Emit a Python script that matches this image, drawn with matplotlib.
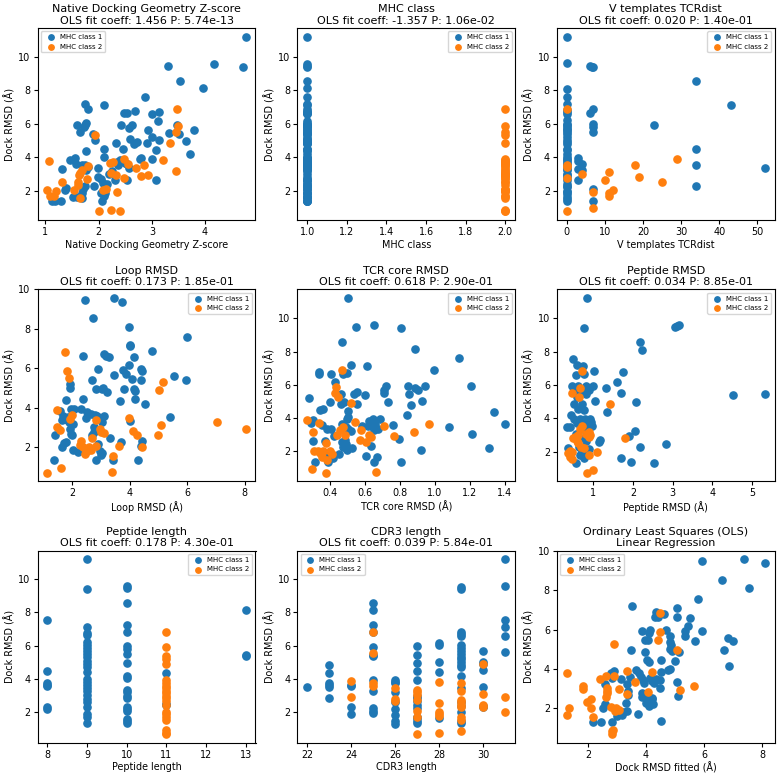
import numpy as np
import matplotlib
matplotlib.use("Agg")
import matplotlib.pyplot as plt

# ---- data (class 1 = blue, class 2 = orange) ----
zscore_c1 = [(4.76, 11.2), (3.31, 9.47), (4.17, 9.57), (4.71, 9.37), (3.53, 8.53), (3.96, 8.12),
             (2.88, 7.57), (1.75, 7.2), (2.11, 7.12), (1.81, 6.86), (2.47, 6.65), (2.54, 6.63),
             (2.68, 6.75), (3.01, 6.6), (3.14, 6.67), (1.60, 5.9), (1.74, 5.94), (1.77, 6.02),
             (1.72, 5.78), (2.43, 5.94), (2.62, 5.9), (2.58, 5.75), (3.12, 6.16), (1.65, 5.47),
             (1.89, 5.41), (1.94, 5.02), (2.59, 5.06), (2.73, 4.92), (2.67, 4.78), (2.90, 4.82),
             (2.92, 5.63), (3.01, 5.22), (3.14, 5.02), (3.33, 5.45), (3.48, 5.94), (3.51, 5.41),
             (3.64, 4.96), (3.80, 5.61), (3.72, 4.20), (2.33, 4.86), (2.45, 4.49), (2.10, 4.47),
             (1.76, 4.37), (3.07, 4.43), (2.11, 3.98), (1.46, 3.8), (1.55, 3.94), (1.58, 3.6),
             (1.68, 3.51), (1.75, 3.55), (1.81, 3.41), (1.77, 3.2), (1.32, 3.29), (1.99, 3.35),
             (2.34, 3.71), (2.40, 3.8), (2.49, 3.65), (2.37, 3.51), (2.53, 3.59), (2.58, 3.35),
             (2.78, 3.86), (2.80, 3.96), (3.01, 3.88), (2.19, 3.0), (2.25, 3.14), (2.30, 2.61),
             (2.53, 2.61), (3.07, 2.65), (1.99, 2.82), (2.04, 2.67), (2.09, 2.43), (2.15, 2.37),
             (1.91, 2.27), (1.74, 2.27), (1.71, 2.08), (1.68, 1.84), (1.38, 2.18), (1.37, 2.02),
             (1.52, 1.59), (1.60, 1.61), (1.68, 1.57), (2.05, 1.88), (2.12, 1.84), (2.11, 1.69),
             (2.07, 1.37), (1.12, 1.35), (1.19, 1.35), (1.30, 1.37)]
zscore_c2 = [(1.06, 3.78), (1.04, 2.04), (1.09, 1.65), (1.17, 1.69), (1.20, 2.0), (1.31, 2.49),
             (1.53, 2.02), (1.62, 2.51), (1.61, 2.31), (1.63, 2.94), (1.66, 3.06), (1.69, 3.22),
             (1.65, 1.57), (1.78, 2.67), (1.81, 3.49), (1.94, 5.33), (2.01, 0.76), (2.08, 2.06),
             (2.14, 2.08), (2.22, 3.65), (2.27, 3.69), (2.24, 0.84), (2.34, 1.94), (2.32, 2.94),
             (2.40, 0.76), (2.48, 2.73), (2.48, 3.88), (2.56, 3.61), (2.71, 3.35), (2.80, 2.84),
             (2.86, 3.55), (2.93, 2.94), (3.21, 3.84), (3.35, 4.86), (3.45, 3.16), (3.45, 5.49),
             (3.48, 6.86), (3.50, 5.88), (2.23, 3.06)]

# V templates TCRdist: many structures sit at 0
tcrdist_zero_c1 = [11.2, 9.6, 8.1, 7.6, 7.2, 6.8, 6.7, 6.6, 6.2, 6.0, 5.9, 5.8, 5.7, 5.6, 5.5,
                   5.4, 5.2, 5.0, 4.9, 4.8, 4.5, 4.4, 4.2, 4.0, 3.9, 3.8, 3.7, 3.6, 3.5, 3.4,
                   3.3, 3.2, 3.0, 2.9, 2.8, 2.6, 2.4, 2.3, 2.2, 2.0, 1.9, 1.8, 1.6, 1.5, 1.35]
tcrdist_c1 = [(3, 3.94), (3, 3.78), (3, 3.29), (4, 3.6), (4, 3.25), (3, 2.65), (6, 9.47),
              (6.5, 9.41), (7, 9.37), (6, 6.63), (7, 6.86), (7, 6.0), (7, 5.8), (7, 5.5),
              (7, 2.08), (7, 1.37), (23, 5.9), (34, 8.53), (34, 4.47), (34, 3.55), (34, 2.29),
              (43, 7.12), (52, 3.33)]
tcrdist_zero_c2 = [6.86, 3.5, 3.4, 2.73, 0.76]
tcrdist_c2 = [(4, 2.98), (7, 1.94), (7, 0.94), (10, 2.61), (11, 3.12), (11, 1.88), (11, 1.65),
              (12, 2.02), (18, 3.55), (19, 2.8), (25, 2.49), (29, 3.9)]

loop_c1 = [(2.46, 9.46), (3.45, 9.56), (3.73, 9.36), (2.73, 8.53), (3.98, 8.10), (6.0, 7.57),
           (4.02, 7.2), (4.03, 7.12), (4.78, 6.86), (2.39, 6.64), (3.12, 6.74), (3.19, 6.64),
           (3.30, 6.59), (4.15, 6.59), (3.97, 6.16), (2.92, 5.95), (3.78, 5.9), (3.89, 5.73),
           (4.39, 5.98), (4.42, 5.88), (4.39, 5.43), (4.08, 5.48), (5.53, 5.6), (5.97, 5.40),
           (3.46, 5.65), (2.68, 5.42), (1.95, 5.22), (1.94, 5.02), (2.84, 4.97), (3.04, 4.94),
           (3.07, 5.02), (3.21, 4.80), (3.82, 4.93), (4.18, 4.85), (4.17, 4.97), (4.20, 4.47),
           (4.54, 4.19), (1.80, 4.4), (2.38, 4.47), (3.67, 4.36), (4.03, 3.34), (5.39, 3.54),
           (2.33, 3.94), (1.97, 3.94), (2.06, 3.94), (1.6, 3.82), (1.68, 3.58), (1.73, 3.41),
           (1.80, 3.46), (1.87, 3.56), (1.64, 3.36), (1.91, 3.28), (2.05, 3.19), (2.50, 3.51),
           (2.54, 3.81), (2.65, 3.69), (2.80, 3.63), (2.87, 3.58), (3.12, 3.58), (3.04, 3.26),
           (2.75, 3.03), (2.77, 2.78), (2.70, 2.65), (1.95, 2.95), (1.97, 2.70), (2.0, 2.61),
           (1.40, 2.61), (1.73, 2.23), (1.81, 2.28), (1.65, 2.02), (2.05, 1.88), (2.22, 1.75),
           (2.91, 2.18), (2.97, 1.82), (3.0, 1.62), (3.06, 1.70), (2.84, 1.34), (1.37, 1.34),
           (3.33, 2.48), (3.72, 2.28), (3.44, 1.37), (4.31, 1.35), (4.39, 2.08), (4.42, 2.32)]
loop_c2 = [(1.76, 6.83), (1.82, 5.88), (1.90, 5.52), (5.15, 5.30), (5.02, 4.89), (1.47, 3.89),
           (1.99, 3.66), (3.98, 3.49), (1.94, 3.44), (7.04, 3.26), (8.03, 2.93), (1.49, 3.03),
           (1.60, 2.90), (5.08, 3.11), (4.99, 2.63), (4.13, 2.83), (4.27, 2.60), (4.43, 2.03),
           (2.83, 3.38), (2.97, 2.95), (3.01, 2.78), (3.12, 2.73), (2.30, 2.33), (2.29, 2.12),
           (2.39, 2.03), (2.48, 1.92), (2.54, 1.82), (2.61, 2.02), (2.66, 1.85), (2.46, 1.65),
           (2.84, 2.05), (2.69, 2.45), (3.64, 2.05), (3.41, 1.55), (1.15, 0.72), (1.61, 0.94),
           (3.38, 0.77)]

core_c1 = [(0.504, 11.23), (0.546, 9.49), (0.65, 9.61), (0.806, 9.41), (0.466, 8.56), (0.886, 8.13),
           (1.136, 7.59), (0.518, 7.2), (0.614, 7.12), (0.996, 6.86), (0.335, 6.76), (0.339, 6.62),
           (0.404, 6.62), (0.474, 6.62), (0.495, 6.68), (0.428, 6.17), (0.72, 5.95), (0.846, 5.95),
           (0.885, 5.83), (0.903, 5.66), (0.941, 5.91), (1.205, 5.95), (0.711, 5.66), (0.711, 5.52),
           (0.277, 5.22), (0.464, 5.42), (0.60, 5.40), (0.539, 5.44), (0.557, 5.58), (0.85, 5.46),
           (0.732, 4.96), (0.48, 4.96), (0.46, 4.83), (0.40, 4.94), (0.552, 4.83), (0.504, 4.43),
           (0.863, 4.79), (0.928, 5.02), (0.343, 4.45), (0.358, 4.51), (0.842, 4.17), (1.214, 3.0),
           (1.08, 3.46), (1.402, 3.62), (1.337, 4.37), (1.31, 2.18), (0.922, 2.06), (0.797, 2.71),
           (0.803, 1.33), (0.683, 3.94), (0.645, 3.94), (0.624, 3.80), (0.618, 3.54), (0.66, 3.64),
           (0.674, 3.34), (0.649, 3.26), (0.637, 2.3), (0.605, 1.72), (0.668, 1.63), (0.649, 1.33),
           (0.495, 3.94), (0.504, 4.06), (0.47, 3.66), (0.489, 3.48), (0.504, 3.34), (0.52, 3.2),
           (0.584, 3.5), (0.353, 3.6), (0.383, 3.32), (0.408, 3.32), (0.294, 3.72), (0.303, 3.88),
           (0.371, 2.63), (0.423, 2.91), (0.466, 2.55), (0.491, 2.4), (0.472, 2.26), (0.499, 2.04),
           (0.527, 2.16), (0.485, 2.67), (0.30, 2.6), (0.449, 1.82), (0.381, 1.86), (0.415, 1.57),
           (0.387, 1.35), (0.315, 1.33), (0.76, 3.6)]
core_c2 = [(0.468, 6.86), (0.432, 5.87), (0.426, 5.52), (0.447, 5.28), (0.518, 4.88), (0.269, 3.88),
           (0.337, 3.68), (0.54, 3.78), (0.706, 3.54), (0.965, 3.62), (0.303, 3.15), (0.472, 3.44),
           (0.455, 3.3), (0.438, 2.97), (0.487, 2.99), (0.575, 3.3), (0.571, 2.69), (0.603, 2.55),
           (0.622, 2.99), (0.634, 2.85), (0.766, 2.91), (0.88, 3.13), (0.379, 2.51), (0.311, 2.0),
           (0.33, 2.0), (0.343, 1.88), (0.362, 2.0), (0.40, 2.0), (0.412, 1.84), (0.353, 1.62),
           (0.385, 1.49), (0.296, 0.91), (0.375, 0.7), (0.664, 0.74)]

pep_rmsd_c1 = [(0.85, 11.23), (0.78, 9.41), (3.05, 9.49), (3.12, 9.55), (3.15, 9.61), (2.18, 8.56),
               (2.22, 8.13), (0.49, 7.59), (0.6, 7.2), (0.75, 7.12), (1.02, 6.86), (0.58, 6.62),
               (0.78, 6.68), (1.76, 6.76), (1.59, 6.17), (1.33, 5.81), (0.47, 5.95), (0.63, 5.95),
               (0.82, 5.95), (1.0, 5.95), (0.91, 5.68), (0.63, 5.66), (0.73, 5.56), (0.83, 5.48),
               (1.7, 5.52), (4.51, 5.42), (5.32, 5.46), (1.06, 5.02), (2.08, 4.96), (0.59, 5.26),
               (0.53, 4.89), (0.71, 4.89), (0.78, 4.53), (0.61, 4.55), (1.35, 4.37), (0.45, 4.19),
               (0.51, 3.94), (0.68, 3.94), (0.79, 3.94), (0.93, 3.94), (0.96, 3.78), (0.89, 3.62),
               (0.98, 3.56), (0.34, 3.48), (0.41, 3.48), (0.59, 3.70), (0.76, 3.38), (0.83, 3.54),
               (0.58, 3.05), (0.66, 2.85), (2.05, 3.25), (1.91, 2.97), (2.83, 2.47), (1.17, 2.71),
               (1.16, 2.59), (0.83, 2.61), (0.38, 2.2), (0.65, 2.3), (2.19, 2.26), (0.91, 2.16),
               (0.66, 1.82), (0.73, 1.96), (0.84, 1.90), (0.78, 1.64), (1.70, 1.60), (1.95, 1.35),
               (2.54, 1.31), (0.56, 1.31)]
pep_rmsd_c2 = [(0.71, 6.86), (0.67, 5.85), (0.48, 5.52), (0.65, 5.28), (1.43, 4.87), (0.71, 3.54),
               (0.68, 3.38), (0.89, 3.18), (0.83, 3.05), (0.93, 3.01), (0.9, 2.89), (0.49, 2.83),
               (0.54, 2.89), (0.59, 2.65), (1.80, 2.81), (0.63, 2.49), (0.77, 2.2), (1.09, 2.0),
               (0.42, 2.04), (0.46, 2.0), (0.38, 1.9), (0.42, 1.68), (0.47, 1.55), (0.89, 1.82),
               (0.70, 2.28), (0.85, 0.74), (1.01, 0.87), (0.63, 2.99)]

# peptide length -> Dock RMSD values
pep_len_c1 = {8: [7.57, 4.48, 3.75, 3.65, 3.56, 2.3, 2.2],
              9: [11.19, 9.38, 7.1, 6.74, 6.65, 6.21, 6.06, 5.86, 5.7, 5.5, 5.31, 5.11, 4.91, 4.72,
                  4.44, 4.0, 3.85, 3.65, 3.46, 3.26, 3.06, 2.79, 2.63, 2.3, 1.88, 1.69, 1.33],
              10: [9.62, 9.48, 8.56, 7.26, 6.84, 5.96, 5.82, 5.48, 4.97, 4.18, 4.05, 3.36, 3.22,
                   2.96, 2.87, 2.31, 2.2, 2.08, 1.59, 1.45, 1.33],
              11: [4.36, 2.5, 2.42],
              13: [8.12, 5.46, 5.39]}
pep_len_c2 = {11: [6.84, 5.9, 5.4, 5.23, 4.9, 3.93, 3.77, 3.61, 3.46, 3.3, 3.14, 3.0, 2.87,
                   2.67, 2.47, 2.04, 1.88, 1.69, 1.53, 0.94, 0.78, 0.7]}

cdr3_c1 = {22: [3.52],
           23: [4.87, 4.34, 3.75, 3.65, 3.5, 2.87],
           24: [3.65, 3.56, 2.31, 1.88],
           25: [8.56, 8.12, 7.24, 6.84, 5.92, 5.46, 5.39, 3.97, 3.26, 2.24, 2.08, 1.98],
           26: [3.97, 3.85, 3.75, 3.2, 2.61, 2.2, 1.84, 1.45, 1.29],
           27: [5.96, 5.43, 4.95, 4.48, 3.95, 3.0, 2.87, 2.67, 2.47, 2.24, 1.74, 1.63, 1.45, 1.33],
           28: [6.19, 6.02, 5.03, 4.4, 1.63],
           29: [9.53, 9.42, 6.84, 6.72, 6.57, 6.02, 5.86, 5.68, 5.5, 5.33, 5.19, 5.03, 4.87, 4.74,
                4.2, 3.46, 2.63, 2.37, 2.04, 1.49, 1.33],
           30: [5.7, 5.0, 4.9, 4.52, 3.54, 2.37, 2.31],
           31: [11.19, 9.58, 7.57, 7.14, 6.61, 5.6]}
cdr3_c2 = {24: [3.89, 2.94],
           25: [6.84, 5.56, 3.75, 3.56],
           26: [3.46, 2.81, 2.67],
           27: [3.36, 3.2, 3.02, 2.73, 2.08, 1.69, 0.7],
           28: [3.85, 2.59, 2.04, 1.88, 1.76, 0.74],
           29: [3.75, 3.26, 2.77, 2.63, 2.47, 2.31, 1.69, 1.55, 0.9],
           30: [4.93, 3.1, 2.47, 2.35],
           31: [2.9, 2.04]}

fitted_c1 = [(5.93, 9.48), (7.36, 9.58), (8.09, 9.4), (6.62, 8.55), (7.55, 8.13), (5.77, 7.58),
             (3.53, 7.22), (5.06, 7.12), (4.35, 6.9), (4.61, 6.78), (4.40, 6.67), (4.29, 6.63),
             (5.06, 6.65), (5.52, 6.62), (5.43, 6.2), (5.33, 5.93), (5.33, 5.67), (5.93, 5.93),
             (4.69, 5.98), (4.83, 5.7), (4.13, 5.98), (4.11, 5.83), (3.87, 5.92), (4.07, 5.5),
             (3.97, 5.47), (5.68, 5.43), (4.81, 5.37), (4.87, 5.2), (4.83, 5.03), (4.89, 4.9),
             (5.13, 4.87), (6.83, 5.58), (7.0, 5.45), (6.67, 4.97), (6.86, 4.18), (3.49, 4.97),
             (3.97, 4.87), (4.03, 4.47), (4.11, 4.37), (4.50, 4.45), (4.99, 4.4), (4.74, 3.95),
             (4.83, 3.98), (4.51, 3.83), (5.06, 3.32), (5.11, 2.65), (4.48, 3.02), (3.65, 3.93),
             (3.76, 3.78), (3.84, 3.62), (3.89, 3.45), (4.15, 3.57), (4.21, 3.4), (4.33, 3.5),
             (4.47, 3.47), (3.93, 3.28), (4.26, 3.27), (3.44, 3.62), (3.12, 3.5), (2.89, 3.92),
             (2.78, 3.78), (2.81, 3.53), (2.57, 3.25), (3.35, 3.25), (3.39, 2.87), (3.37, 2.67),
             (3.86, 2.77), (3.86, 2.58), (3.99, 2.63), (4.21, 2.53), (3.98, 2.27), (4.11, 2.13),
             (4.21, 2.47), (4.24, 2.2), (3.30, 2.27), (2.57, 2.2), (2.53, 2.0), (3.06, 1.78),
             (3.01, 1.62), (3.18, 1.67), (3.21, 1.83), (3.35, 1.87), (3.71, 1.73), (2.18, 1.33),
             (2.46, 1.33), (2.81, 1.33), (4.51, 1.37)]
fitted_c2 = [(1.27, 3.78), (1.28, 1.65), (1.36, 2.02), (1.84, 3.15), (1.84, 2.98), (1.97, 2.33),
             (2.11, 2.47), (2.09, 2.02), (2.16, 1.57), (2.43, 3.48), (2.62, 3.67), (2.89, 3.63),
             (2.64, 3.03), (2.64, 2.87), (2.62, 2.6), (2.67, 2.77), (2.91, 5.28), (3.07, 3.0),
             (3.33, 3.88), (3.33, 2.72), (3.61, 3.33), (4.08, 2.82), (4.19, 3.87), (4.40, 5.5),
             (4.47, 5.9), (4.47, 6.87), (5.07, 4.98), (5.17, 2.92), (5.66, 3.12), (2.80, 2.08),
             (2.98, 2.02), (2.94, 1.85), (3.07, 1.92), (2.85, 0.92), (2.83, 0.7), (2.81, 0.83)]

titles = ["Native Docking Geometry Z-score\nOLS fit coeff: 1.456 P: 5.74e-13",
          "MHC class\nOLS fit coeff: -1.357 P: 1.06e-02",
          "V templates TCRdist\nOLS fit coeff: 0.020 P: 1.40e-01",
          "Loop RMSD\nOLS fit coeff: 0.173 P: 1.85e-01",
          "TCR core RMSD\nOLS fit coeff: 0.618 P: 2.90e-01",
          "Peptide RMSD\nOLS fit coeff: 0.034 P: 8.85e-01",
          "Peptide length\nOLS fit coeff: 0.178 P: 4.30e-01",
          "CDR3 length\nOLS fit coeff: 0.039 P: 5.84e-01",
          "Ordinary Least Squares (OLS)\nLinear Regression"]
xlabels = ["Native Docking Geometry Z-score", "MHC class", "V templates TCRdist",
           "Loop RMSD (Å)", "TCR core RMSD (Å)", "Peptide RMSD (Å)",
           "Peptide length", "CDR3 length", "Dock RMSD fitted (Å)"]
legend_locs = ["upper left", "upper right", "upper right", "upper right", "upper right",
               "upper right", "upper right", "upper left", "upper left"]


def pairs(p):
    a = np.array(p, dtype=float)
    return a[:, 0], a[:, 1]


def grouped(d):
    xs = [k for k, v in d.items() for _ in v]
    ys = [y for v in d.values() for y in v]
    return np.array(xs, float), np.array(ys, float)


dock_c1 = pairs(zscore_c1)[1]
dock_c2 = pairs(zscore_c2)[1]

panels = [
    (pairs(zscore_c1), pairs(zscore_c2)),
    ((np.ones_like(dock_c1), dock_c1), (np.full_like(dock_c2, 2.0), dock_c2)),
    ((np.r_[np.zeros(len(tcrdist_zero_c1)), pairs(tcrdist_c1)[0]],
      np.r_[tcrdist_zero_c1, pairs(tcrdist_c1)[1]]),
     (np.r_[np.zeros(len(tcrdist_zero_c2)), pairs(tcrdist_c2)[0]],
      np.r_[tcrdist_zero_c2, pairs(tcrdist_c2)[1]])),
    (pairs(loop_c1), pairs(loop_c2)),
    (pairs(core_c1), pairs(core_c2)),
    (pairs(pep_rmsd_c1), pairs(pep_rmsd_c2)),
    (grouped(pep_len_c1), grouped(pep_len_c2)),
    (grouped(cdr3_c1), grouped(cdr3_c2)),
    (pairs(fitted_c1), pairs(fitted_c2)),
]

fig, axes = plt.subplots(3, 3, figsize=(7.79, 7.78), dpi=100)
for ax, (c1, c2), title, xl, loc in zip(axes.flat, panels, titles, xlabels, legend_locs):
    ax.scatter(c1[0], c1[1], s=27, color="tab:blue", label="MHC class 1")
    ax.scatter(c2[0], c2[1], s=27, color="tab:orange", label="MHC class 2")
    ax.set_title(title, fontsize=8, pad=3)
    ax.set_xlabel(xl, fontsize=6.9, labelpad=2)
    ax.set_ylabel("Dock RMSD (Å)", fontsize=6.9, labelpad=2)
    ax.tick_params(labelsize=6.9, length=3, pad=2)
    ax.legend(loc=loc, fontsize=5, markerscale=0.75, handletextpad=0.3)

fig.tight_layout(pad=0.3, h_pad=1.0, w_pad=0.6)
fig.savefig("out.png", dpi=100)
